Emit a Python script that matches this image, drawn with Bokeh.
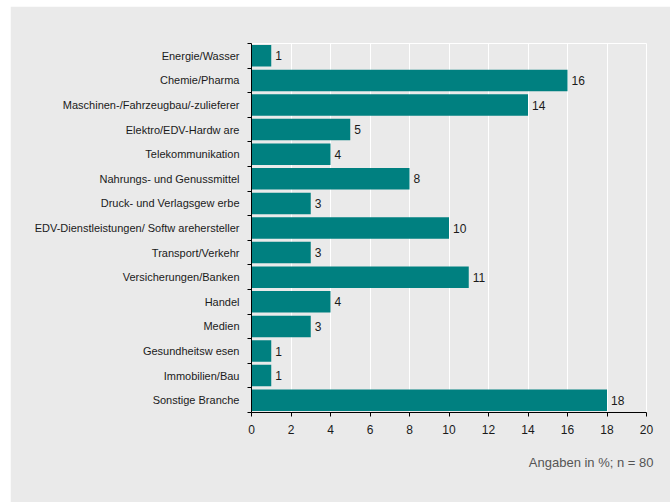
from bokeh.plotting import figure
from bokeh.models import ColumnDataSource, Range1d, FixedTicker, Title
from bokeh.core.properties import value
from bokeh.embed import file_html
from bokeh.resources import INLINE

categories = [
    "Energie/Wasser",
    "Chemie/Pharma",
    "Maschinen-/Fahrzeugbau/-zulieferer",
    "Elektro/EDV-Hardw are",
    "Telekommunikation",
    "Nahrungs- und Genussmittel",
    "Druck- und Verlagsgew erbe",
    "EDV-Dienstleistungen/ Softw arehersteller",
    "Transport/Verkehr",
    "Versicherungen/Banken",
    "Handel",
    "Medien",
    "Gesundheitsw esen",
    "Immobilien/Bau",
    "Sonstige Branche",
]
values = [1, 16, 14, 5, 4, 8, 3, 10, 3, 11, 4, 3, 1, 1, 18]
x_ticks = [0, 2, 4, 6, 8, 10, 12, 14, 16, 18, 20]
note = "Angaben in %; n = 80"

n = len(categories)
pos = list(range(n))
src = ColumnDataSource(dict(y=pos, v=values, lab=[str(v) for v in values]))

FONT = "Liberation Sans"
BG = "#eaeaea"
TEAL = "#008080"

p = figure(
    frame_width=395, frame_height=369,
    min_border_left=241, min_border_right=24, min_border_top=37, min_border_bottom=90,
    x_range=Range1d(0, 20), y_range=Range1d(n - 0.5, -0.5),
    output_backend="svg", toolbar_location=None,
    background_fill_color=BG, border_fill_color=BG,
    margin=(6, 0, 0, 10),
)
p.outline_line_color = "white"
p.outline_line_width = 1

p.hbar(y="y", right="v", left=0, height=0.875, source=src, fill_color=TEAL, line_color=None)
p.text(x="v", y="y", text="lab", source=src, x_offset=4, text_baseline="middle",
       text_align="left", text_font=value(FONT), text_font_size="12px", text_color="#1a1a1a")

# grids
p.ygrid.grid_line_color = None
p.xgrid.ticker = FixedTicker(ticks=x_ticks)
p.xgrid.grid_line_color = "white"
p.xgrid.grid_line_width = 1

# x axis
xa = p.xaxis[0]
xa.ticker = FixedTicker(ticks=x_ticks)
xa.axis_line_color = "black"
xa.major_tick_line_color = "black"
xa.major_tick_out = 4
xa.major_tick_in = 0
xa.minor_tick_line_color = None
xa.major_label_standoff = 8
xa.major_label_text_font = FONT
xa.major_label_text_font_size = "12px"
xa.major_label_text_color = "#1a1a1a"

# y axis
ya = p.yaxis[0]
ya.ticker = FixedTicker(ticks=pos, minor_ticks=[i - 0.5 for i in range(n + 1)])
ya.major_label_overrides = {i: c for i, c in enumerate(categories)}
ya.axis_line_color = "black"
ya.major_tick_out = 0
ya.major_tick_in = 0
ya.major_tick_line_color = None
ya.minor_tick_line_color = "black"
ya.minor_tick_out = 4
ya.minor_tick_in = 0
ya.major_label_standoff = 8
ya.major_label_text_font = FONT
ya.major_label_text_font_size = "11px"
ya.major_label_text_color = "#1a1a1a"

p.add_layout(Title(text=note, align="right", text_font=FONT, text_font_size="13px",
                   text_font_style="normal", text_color="#555555", standoff=32,
                   offset=-7), "below")

open("out.html", "w").write(file_html(p, INLINE))
